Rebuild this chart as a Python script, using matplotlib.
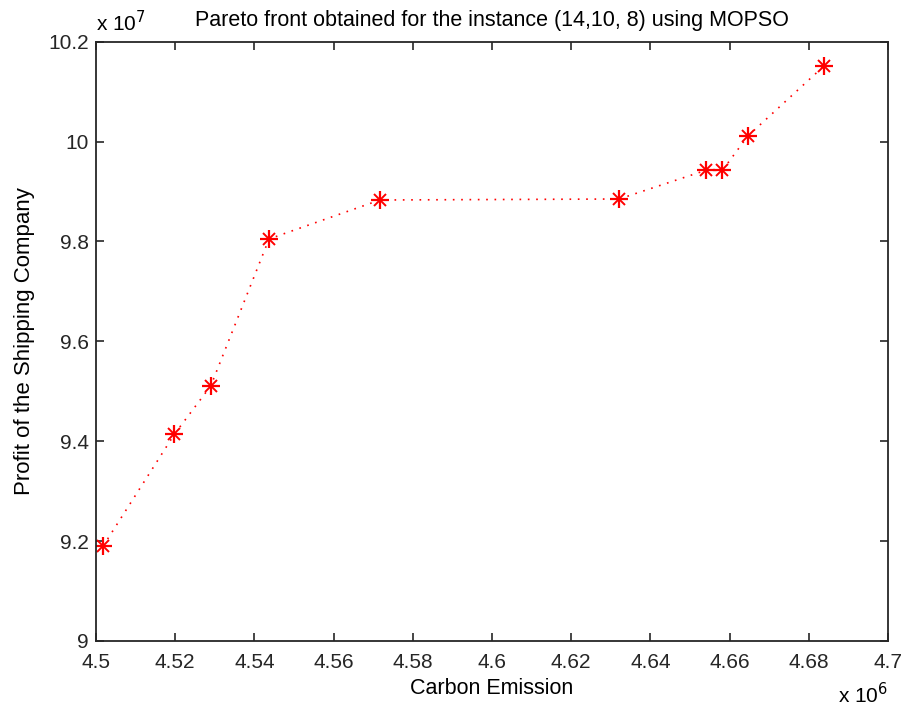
import matplotlib.pyplot as plt
from matplotlib.ticker import FuncFormatter, MultipleLocator

# Pareto front: carbon emission vs profit
emission = [4.5018e6, 4.5198e6, 4.5290e6, 4.5437e6, 4.5717e6,
            4.6321e6, 4.6540e6, 4.6582e6, 4.6646e6, 4.6839e6]
profit = [9.190e7, 9.414e7, 9.511e7, 9.805e7, 9.883e7,
          9.885e7, 9.9425e7, 9.9425e7, 10.011e7, 10.152e7]

X_SCALE = 1e6
Y_SCALE = 1e7

plt.rcParams['font.family'] = ['Liberation Sans', 'DejaVu Sans']

fig = plt.figure(figsize=(9.02, 7.15), dpi=100)
ax = fig.add_axes([0.1064, 0.1035, 0.8781, 0.8382])

xs = [v / X_SCALE for v in emission]
ys = [v / Y_SCALE for v in profit]
ax.plot(xs, ys, color='red', linestyle=(0, (1, 4)), linewidth=1.2)
ax.plot(xs, ys, linestyle='none', marker='+', color='red', markersize=13, markeredgewidth=1.6)
ax.plot(xs, ys, linestyle='none', marker='x', color='red', markersize=8, markeredgewidth=1.4)

ax.set_xlim(4.5, 4.7)
ax.set_ylim(9, 10.2)
ax.xaxis.set_major_locator(MultipleLocator(0.02))
ax.yaxis.set_major_locator(MultipleLocator(0.2))
fmt = FuncFormatter(lambda v, p: f'{round(v, 4):g}')
ax.xaxis.set_major_formatter(fmt)
ax.yaxis.set_major_formatter(fmt)

ax.tick_params(direction='in', top=True, right=True, length=6, width=1.2,
               labelsize=15, colors='#262626', pad=5)
ax.tick_params(axis='x', pad=9)
for sp in ax.spines.values():
    sp.set_color('#262626')
    sp.set_linewidth(1.3)

ax.text(0.5, 1.0267, 'Pareto front obtained for the instance (14,10, 8) using MOPSO',
        transform=ax.transAxes, fontsize=15.5, ha='center', va='baseline')
ax.set_xlabel('Carbon Emission', fontsize=15.5, labelpad=4)
ax.set_ylabel('Profit of the Shipping Company', fontsize=16, labelpad=10)

# exponent labels in the axis corners
ax.text(0.0, 1.017, r'x 10$^{7}$', transform=ax.transAxes, fontsize=15,
        ha='left', va='baseline')
ax.text(1.0, -0.1035, r'x 10$^{6}$', transform=ax.transAxes, fontsize=15,
        ha='right', va='baseline')

fig.savefig('out.png', dpi=100)
